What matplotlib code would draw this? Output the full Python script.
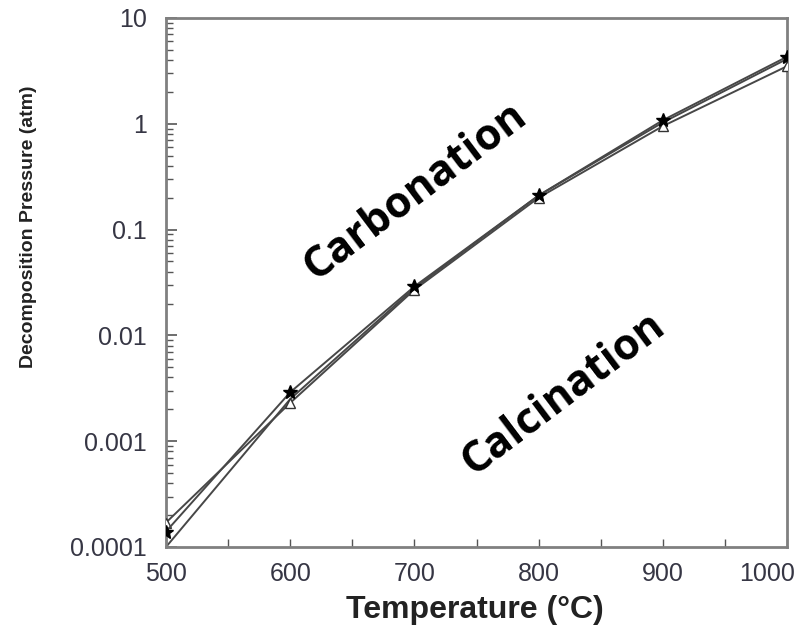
import matplotlib
matplotlib.use("Agg")
import matplotlib.pyplot as plt
from matplotlib.ticker import FixedLocator, NullFormatter, LogLocator
from matplotlib.transforms import ScaledTranslation

# decomposition pressure vs temperature
temps = [500, 600, 700, 800, 900, 1000]
p_star = [1.4e-4, 0.0029, 0.029, 0.21, 1.08, 4.3]
p_tri = [1.7e-4, 0.0023, 0.027, 0.20, 0.95, 3.5]
p_line = [1.0e-4, 0.0025, 0.028, 0.21, 1.03, 4.1]

y_ticks = [1e-4, 1e-3, 1e-2, 1e-1, 1, 10]
y_labels = ["0.0001", "0.001", "0.01", "0.1", "1", "10"]

fig = plt.figure(figsize=(8.11, 6.29), dpi=100)
ax = fig.add_axes([0.2047, 0.1304, 0.7657, 0.841])

line_col = "#474747"
ax.plot(temps, p_line, color=line_col, lw=1.4, zorder=2)
ax.plot(temps, p_tri, color=line_col, lw=1.4, marker="^", ms=7,
        mfc="white", mec="#333333", mew=1.0, zorder=3)
ax.plot(temps, p_star, color=line_col, lw=1.4, marker="*", ms=10,
        mfc="black", mec="black", zorder=4)

ax.set_yscale("log")
ax.set_xlim(500, 1000)
ax.set_ylim(1e-4, 10)

ax.set_yticks(y_ticks)
ax.set_yticklabels(y_labels)
ax.yaxis.set_minor_locator(LogLocator(base=10, subs=range(2, 10)))
ax.yaxis.set_minor_formatter(NullFormatter())
ax.set_xticks(temps)
ax.xaxis.set_minor_locator(FixedLocator([550, 650, 750, 850, 950]))

lab_col = "#363644"
ax.tick_params(axis="both", which="both", direction="in", colors="#555555",
               labelcolor=lab_col, labelsize=18, top=False, right=False)
ax.tick_params(axis="y", which="major", length=8, width=1.2, pad=14)
ax.tick_params(axis="y", which="minor", length=5, width=1.0)
ax.tick_params(axis="x", which="both", length=6, width=1.0, pad=11)
for lbl in ax.get_xticklabels() + ax.get_yticklabels():
    lbl.set_family("Liberation Sans")

# keep the last x label inside the figure
last = ax.get_xticklabels()[-1]
last.set_transform(last.get_transform() +
                   ScaledTranslation(-0.2, 0, fig.dpi_scale_trans))

for sp in ax.spines.values():
    sp.set_color("#808080")
    sp.set_linewidth(2.0)

ax.set_xlabel("Temperature (\u00b0C)", fontsize=23, fontweight="bold",
              family="Liberation Sans", color="#222222")
ax.xaxis.set_label_coords(0.497, -0.09)
ax.set_ylabel("Decomposition Pressure (atm)", fontsize=14, fontweight="bold",
              family="Liberation Sans", color="#222222")
ax.yaxis.set_label_coords(-0.207, 0.605)

ax.text(0.402, 0.673, "Carbonation", transform=ax.transAxes, rotation=37,
        ha="center", va="center", fontsize=31, fontweight="bold",
        family="Open Sans", color="black")
ax.text(0.64, 0.29, "Calcination", transform=ax.transAxes, rotation=37,
        ha="center", va="center", fontsize=31, fontweight="bold",
        family="Open Sans", color="black")

fig.savefig("out.png", dpi=100)
